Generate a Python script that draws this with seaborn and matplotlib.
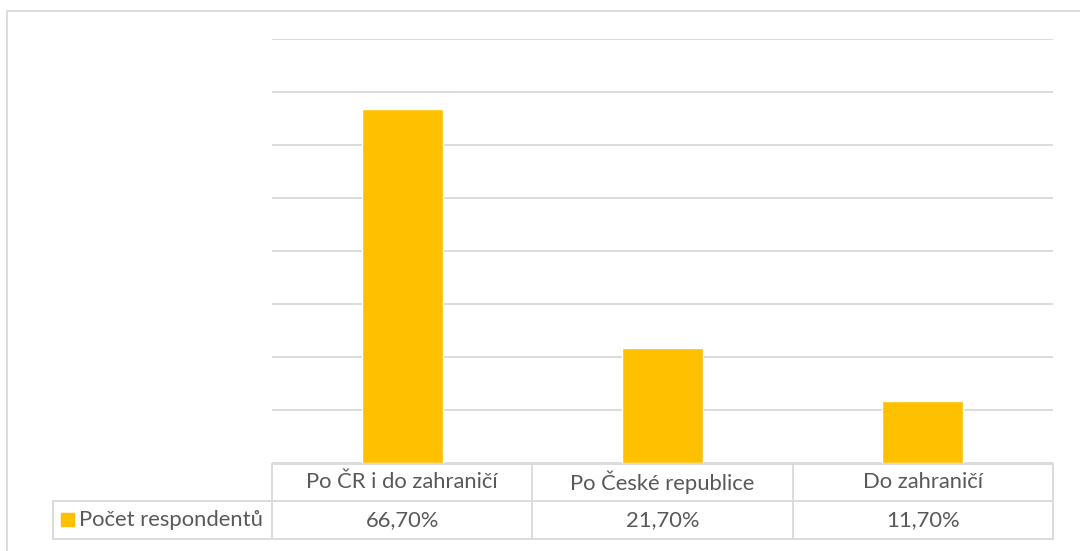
import matplotlib
matplotlib.use("Agg")
import matplotlib.pyplot as plt
import pandas as pd
import seaborn as sns
from matplotlib.patches import Rectangle

# data
categories = ["Po ČR i do zahraničí", "Po České republice", "Do zahraničí"]
values = [66.7, 21.7, 11.7]
series_name = "Počet respondentů"
value_labels = ["66,70%", "21,70%", "11,70%"]

BAR_COLOR = "#FFC000"
GRID_COLOR = "#D9D9D9"
TEXT_COLOR = "#595959"
FONT_SIZE = 15.8

W, H = 1080, 551
sns.set_theme(style="white")
plt.rcParams["font.family"] = ["Lato", "DejaVu Sans"]

fig = plt.figure(figsize=(W / 100, H / 100), dpi=100)


def px_axes(left, top, right, bottom):
    return fig.add_axes([left / W, 1 - bottom / H, (right - left) / W, (bottom - top) / H])


# plot area
ax = px_axes(272, 39, 1053, 463)
frame = pd.DataFrame({"category": categories, "value": values})
sns.barplot(data=frame, x="category", y="value", color=BAR_COLOR, width=0.31,
            saturation=1, ax=ax, zorder=3)
ax.set_xlim(-0.5, len(categories) - 0.5)
ax.set_ylim(0, 80)
ax.set_yticks(range(0, 81, 10))
ax.grid(axis="y", color=GRID_COLOR, linewidth=1.3, zorder=0)
ax.set_xticks([])
ax.set_yticklabels([])
ax.tick_params(left=False, bottom=False)
ax.set_xlabel("")
ax.set_ylabel("")
for s in ax.spines.values():
    s.set_visible(False)

# overlay in pixel coordinates for the data table and chart border
ov = fig.add_axes([0, 0, 1, 1], zorder=5)
ov.set_xlim(0, W)
ov.set_ylim(H, 0)
ov.axis("off")
ov.patch.set_alpha(0)

# outer chart border (runs off right and bottom)
ov.plot([7, 7, W + 5], [H + 5, 10.5, 10.5], color=GRID_COLOR, lw=1.3)

col_x = [272, 532.3, 792.6, 1053]
legend_left = 53
row_y = [463.5, 501, 538.5]
lw = 1.3
ov.plot([col_x[0], col_x[-1]], [row_y[0], row_y[0]], color=GRID_COLOR, lw=lw)
ov.plot([legend_left, col_x[-1]], [row_y[1], row_y[1]], color=GRID_COLOR, lw=lw)
ov.plot([legend_left, col_x[-1]], [row_y[2], row_y[2]], color=GRID_COLOR, lw=lw)
for x in col_x:
    ov.plot([x, x], [row_y[0], row_y[2]], color=GRID_COLOR, lw=lw)
ov.plot([legend_left, legend_left], [row_y[1], row_y[2]], color=GRID_COLOR, lw=lw)

for i, (cat, lab) in enumerate(zip(categories, value_labels)):
    cx = (col_x[i] + col_x[i + 1]) / 2
    ov.text(cx, (row_y[0] + row_y[1]) / 2, cat, ha="center", va="center",
            fontsize=FONT_SIZE, color=TEXT_COLOR)
    ov.text(cx, (row_y[1] + row_y[2]) / 2, lab, ha="center", va="center",
            fontsize=FONT_SIZE, color=TEXT_COLOR)

ov.add_patch(Rectangle((61, 513), 13, 13, color=BAR_COLOR))
ov.text(79, (row_y[1] + row_y[2]) / 2, series_name, ha="left", va="center",
        fontsize=FONT_SIZE, color=TEXT_COLOR)

fig.savefig("out.png", dpi=100, facecolor="white")
